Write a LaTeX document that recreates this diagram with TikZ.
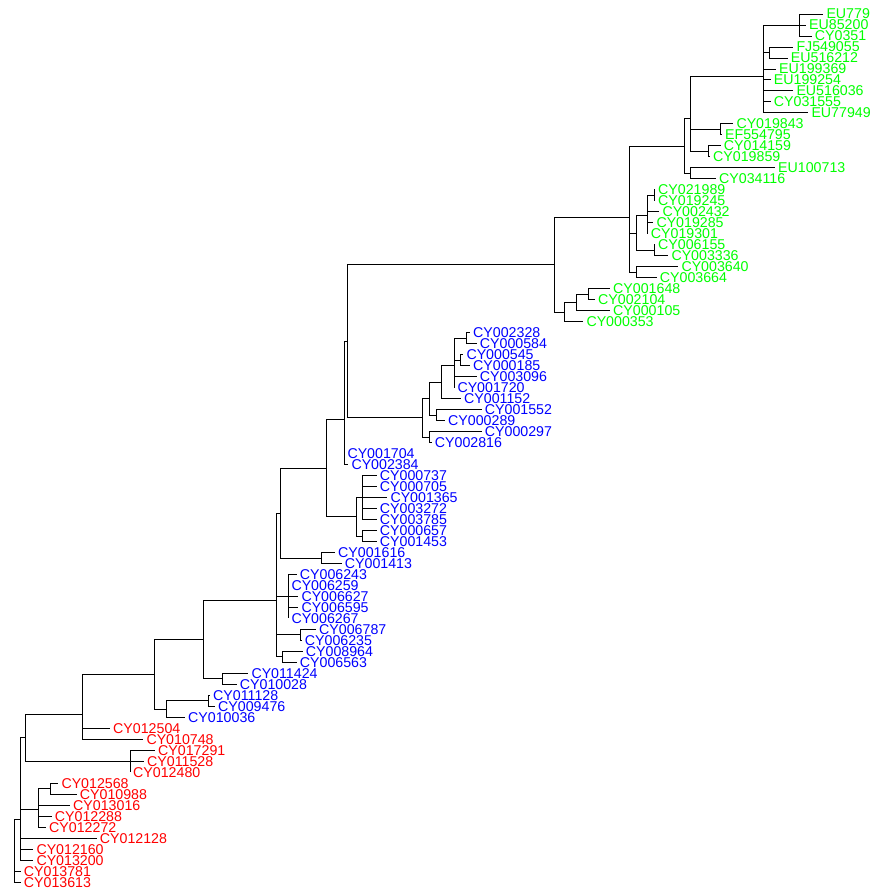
\documentclass[tikz,border=0pt]{standalone}
\usepackage{fontspec}
\setmainfont{Liberation Sans}
\definecolor{tg}{RGB}{0,255,0}
\definecolor{tb}{RGB}{0,0,255}
\definecolor{tr}{RGB}{255,0,0}
\tikzset{
  lab/.style={anchor=west, inner sep=0pt, font=\fontsize{14.2}{14.2}\selectfont},
  edge/.style={line width=0.9pt, draw=black}
}
\newcommand{\tp}[5]{\coordinate (#1) at (#2,#3);\node[lab,text=#5] (#1l) at ([xshift=3pt]#1) {#4};}
\newcommand{\br}[2]{\foreach \ch in {#2}{\draw[edge] (#1) |- (\ch);}}
\begin{document}
\begin{tikzpicture}[x=1pt,y=-1pt]
\useasboundingbox (0,0) rectangle (874,895);
\clip (0,0) rectangle (874,895);
% internal nodes
\coordinate (A1) at (799.3,24.99);
\coordinate (A2) at (769.3,52.47);
\coordinate (A) at (763.3,76.02);
\coordinate (B1) at (720,129.39);
\coordinate (B2) at (708.3,151.38);
\coordinate (B) at (690.7,118.93);
\coordinate (C1) at (690.7,173.36);
\coordinate (C) at (684.5,146.14);
\coordinate (D1a) at (654.3,195.34);
\coordinate (D1) at (647.7,215.93);
\coordinate (D2) at (654.3,250.29);
\coordinate (D) at (636,233.11);
\coordinate (E) at (636,272.27);
\coordinate (F) at (629.3,217.17);
\coordinate (G1a) at (588.3,294.25);
\coordinate (G1) at (576,302.49);
\coordinate (G) at (564,312.10);
\coordinate (H) at (554.3,264.65);
\coordinate (I1) at (466.7,338.21);
\coordinate (I2) at (460,360.19);
\coordinate (I) at (454.3,365.68);
\coordinate (J) at (441,382.17);
\coordinate (K1) at (436,415.13);
\coordinate (K) at (429.3,398.65);
\coordinate (L1) at (429.3,437.12);
\coordinate (L) at (422.7,417.88);
\coordinate (M) at (347.3,341.26);
\coordinate (N) at (344.3,419.81);
\coordinate (O1) at (362,497.56);
\coordinate (O2) at (362,536.03);
\coordinate (O) at (356,516.79);
\coordinate (P) at (326.7,468.30);
\coordinate (Q1) at (321.7,558.01);
\coordinate (Q) at (280.7,513.15);
\coordinate (R1) at (288.3,596.47);
\coordinate (R2) at (300,634.94);
\coordinate (R3) at (282.7,656.92);
\coordinate (R) at (276.3,600.37);
\coordinate (S1) at (222.7,678.90);
\coordinate (S) at (203.3,639.63);
\coordinate (T1) at (208,700.88);
\coordinate (T) at (166,709.12);
\coordinate (U) at (154.3,674.39);
\coordinate (V) at (82.7,714.03);
\coordinate (W1) at (130,761.32);
\coordinate (W) at (25,737.66);
\coordinate (X1a) at (50.7,788.80);
\coordinate (X1) at (38.3,809.41);
\coordinate (X) at (20.7,818.97);
\coordinate (root) at (14.3,857.48);
% tips
\tp{t1}{823.3}{14.00}{EU779}{tg}
\tp{t2}{806}{24.99}{EU85200}{tg}
\tp{t3}{811.7}{35.98}{CY0351}{tg}
\tp{t4}{793.3}{46.97}{FJ549055}{tg}
\tp{t5}{787.7}{57.96}{EU516212}{tg}
\tp{t6}{776}{68.95}{EU199369}{tg}
\tp{t7}{770.7}{79.94}{EU199254}{tg}
\tp{t8}{793.3}{90.93}{EU516036}{tg}
\tp{t9}{770.7}{101.92}{CY031555}{tg}
\tp{t10}{808.3}{112.91}{EU77949}{tg}
\tp{t11}{733.3}{123.90}{CY019843}{tg}
\tp{t12}{722}{134.89}{EF554795}{tg}
\tp{t13}{720.7}{145.88}{CY014159}{tg}
\tp{t14}{710}{156.87}{CY019859}{tg}
\tp{t15}{775}{167.86}{EU100713}{tg}
\tp{t16}{716}{178.85}{CY034116}{tg}
\tp{t17}{655}{189.84}{CY021989}{tg}
\tp{t18}{655}{200.83}{CY019245}{tg}
\tp{t19}{659.3}{211.82}{CY002432}{tg}
\tp{t20}{653.3}{222.81}{CY019285}{tg}
\tp{t21}{647.7}{233.80}{CY019301}{tg}
\tp{t22}{655}{244.79}{CY006155}{tg}
\tp{t23}{668.3}{255.78}{CY003336}{tg}
\tp{t24}{678.3}{266.77}{CY003640}{tg}
\tp{t25}{656.7}{277.76}{CY003664}{tg}
\tp{t26}{610}{288.75}{CY001648}{tg}
\tp{t27}{595}{299.74}{CY002104}{tg}
\tp{t28}{610}{310.73}{CY000105}{tg}
\tp{t29}{583.3}{321.72}{CY000353}{tg}
\tp{t30}{470}{332.71}{CY002328}{tb}
\tp{t31}{476.7}{343.70}{CY000584}{tb}
\tp{t32}{463.3}{354.69}{CY000545}{tb}
\tp{t33}{470}{365.68}{CY000185}{tb}
\tp{t34}{476.7}{376.67}{CY003096}{tb}
\tp{t35}{454.3}{387.66}{CY001720}{tb}
\tp{t36}{461}{398.65}{CY001152}{tb}
\tp{t37}{481.7}{409.64}{CY001552}{tb}
\tp{t38}{445}{420.63}{CY000289}{tb}
\tp{t39}{481.7}{431.62}{CY000297}{tb}
\tp{t40}{431.7}{442.61}{CY002816}{tb}
\tp{t41}{344.3}{453.60}{CY001704}{tb}
\tp{t42}{348.3}{464.59}{CY002384}{tb}
\tp{t43}{376.7}{475.58}{CY000737}{tb}
\tp{t44}{376.7}{486.57}{CY000705}{tb}
\tp{t45}{387.3}{497.56}{CY001365}{tb}
\tp{t46}{376.7}{508.55}{CY003272}{tb}
\tp{t47}{376.7}{519.54}{CY003785}{tb}
\tp{t48}{376.7}{530.53}{CY000657}{tb}
\tp{t49}{376.7}{541.52}{CY001453}{tb}
\tp{t50}{335}{552.51}{CY001616}{tb}
\tp{t51}{341.7}{563.50}{CY001413}{tb}
\tp{t52}{296.7}{574.49}{CY006243}{tb}
\tp{t53}{288.3}{585.48}{CY006259}{tb}
\tp{t54}{298.3}{596.47}{CY006627}{tb}
\tp{t55}{298.3}{607.46}{CY006595}{tb}
\tp{t56}{288.3}{618.45}{CY006267}{tb}
\tp{t57}{316}{629.44}{CY006787}{tb}
\tp{t58}{301.7}{640.43}{CY006235}{tb}
\tp{t59}{302.7}{651.42}{CY008964}{tb}
\tp{t60}{296.7}{662.41}{CY006563}{tb}
\tp{t61}{248.3}{673.40}{CY011424}{tb}
\tp{t62}{236.7}{684.39}{CY010028}{tb}
\tp{t63}{210}{695.38}{CY011128}{tb}
\tp{t64}{215}{706.37}{CY009476}{tb}
\tp{t65}{185}{717.36}{CY010036}{tb}
\tp{t66}{110}{728.35}{CY012504}{tr}
\tp{t67}{143.3}{739.34}{CY010748}{tr}
\tp{t68}{155}{750.33}{CY017291}{tr}
\tp{t69}{144}{761.32}{CY011528}{tr}
\tp{t70}{130}{772.31}{CY012480}{tr}
\tp{t71}{58.3}{783.30}{CY012568}{tr}
\tp{t72}{76.7}{794.29}{CY010988}{tr}
\tp{t73}{70}{805.28}{CY013016}{tr}
\tp{t74}{51.7}{816.27}{CY012288}{tr}
\tp{t75}{46}{827.26}{CY012272}{tr}
\tp{t76}{96.7}{838.25}{CY012128}{tr}
\tp{t77}{33.3}{849.24}{CY012160}{tr}
\tp{t78}{33.3}{860.23}{CY013200}{tr}
\tp{t79}{20.7}{871.22}{CY013781}{tr}
\tp{t80}{20.7}{882.21}{CY013613}{tr}
% branches
\br{A1}{t1,t2,t3}
\br{A2}{t4,t5}
\br{A}{A1,A2,t6,t7,t8,t9,t10}
\br{B1}{t11,t12}
\br{B2}{t13,t14}
\br{B}{A,B1,B2}
\br{C1}{t15,t16}
\br{C}{B,C1}
\br{D1a}{t17,t18}
\br{D1}{D1a,t19,t20,t21}
\br{D2}{t22,t23}
\br{D}{D1,D2}
\br{E}{t24,t25}
\br{F}{C,D,E}
\br{G1a}{t26,t27}
\br{G1}{G1a,t28}
\br{G}{G1,t29}
\br{H}{F,G}
\br{I1}{t30,t31}
\br{I2}{t32,t33}
\br{I}{I1,I2,t34,t35}
\br{J}{I,t36}
\br{K1}{t37,t38}
\br{K}{J,K1}
\br{L1}{t39,t40}
\br{L}{K,L1}
\br{M}{H,L}
\br{N}{M,t41,t42}
\br{O1}{t43,t44,t45,t46,t47}
\br{O2}{t48,t49}
\br{O}{O1,O2}
\br{P}{N,O}
\br{Q1}{t50,t51}
\br{Q}{P,Q1}
\br{R1}{t52,t53,t54,t55,t56}
\br{R2}{t57,t58}
\br{R3}{t59,t60}
\br{R}{Q,R1,R2,R3}
\br{S1}{t61,t62}
\br{S}{R,S1}
\br{T1}{t63,t64}
\br{T}{T1,t65}
\br{U}{S,T}
\br{V}{U,t66,t67}
\br{W1}{t68,t69,t70}
\br{W}{V,W1}
\br{X1a}{t71,t72}
\br{X1}{X1a,t73,t74,t75}
\br{X}{W,X1,t76,t77,t78}
\br{root}{X,t79,t80}
\end{tikzpicture}
\end{document}
